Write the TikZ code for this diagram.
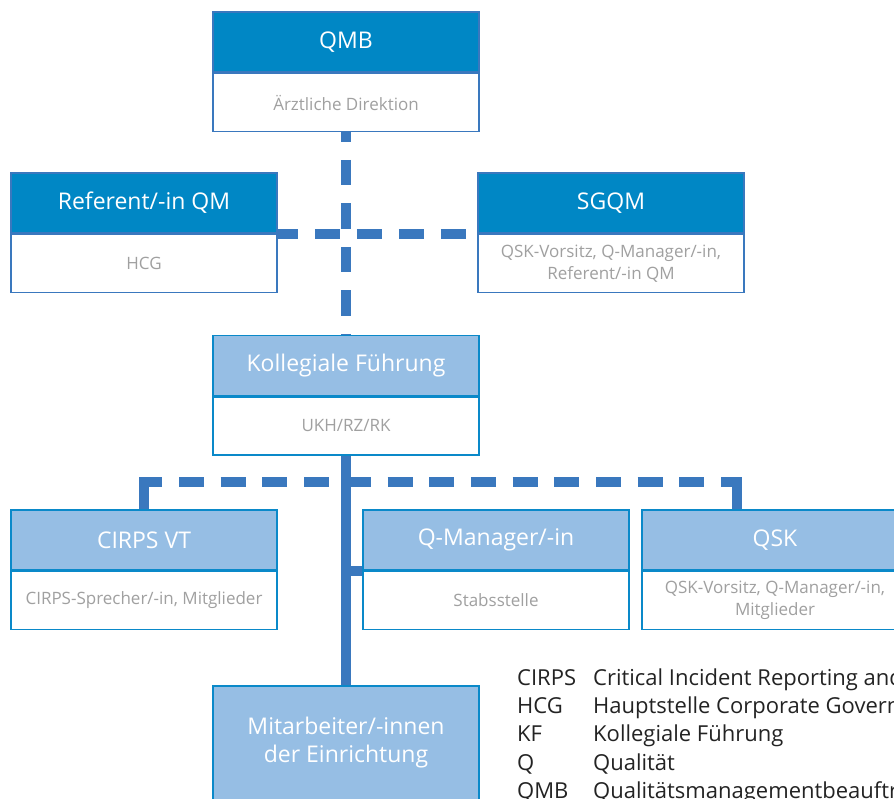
\documentclass[tikz,border=0pt]{standalone}
\usepackage{fontspec}
\setmainfont{Open Sans}
\usepackage{xcolor}
\usepackage{tikz}

\definecolor{qmdunkel}{RGB}{0,135,197}
\definecolor{qmhell}{RGB}{150,190,228}
\definecolor{linie}{RGB}{58,120,190}
\definecolor{rahmen}{RGB}{10,137,201}
\definecolor{textgrau}{RGB}{160,160,160}
\definecolor{legende}{RGB}{35,35,35}

\begin{document}
\begin{tikzpicture}[x=1pt, y=-1pt,
	kopf/.style={minimum width=266pt, minimum height=60pt, inner sep=0pt, text=white, line width=1.5pt, font=\fontsize{23}{28}\selectfont, align=center},
	kopfdunkel/.style={kopf, fill=qmdunkel, draw=linie},
	kopfhell/.style={kopf, fill=qmhell, draw=rahmen},
	inhalt/.style={minimum width=266pt, minimum height=58pt, inner sep=0pt, fill=white, line width=1.5pt, text=textgrau, font=\fontsize{17}{22}\selectfont, align=center, anchor=north},
	verbindung/.style={draw=linie, line width=10.5pt},
	gestrichelt/.style={verbindung, dash pattern=on 25pt off 17pt},
	abk/.style={anchor=base west, inner sep=0pt, text=legende, font=\fontsize{22}{28}\selectfont}]
				\useasboundingbox (0, 0) rectangle (894, 798);
				\clip (0, 0) rectangle (894, 798);
				
				%Level 1
				\node[kopfdunkel] (qmb) at (346, 42) {QMB};
				\node[inhalt, draw=linie] (qmbsub) at (qmb.south) {Ärztliche Direktion};
				
				%Level 2
				\node[kopfdunkel] (ref) at (144, 203) {Referent/-in QM};
				\node[inhalt, draw=linie] (refsub) at (ref.south) {HCG};
				\node[kopfdunkel] (sgqm) at (611, 203) {SGQM};
				\node[inhalt, draw=linie] (sgqmsub) at (sgqm.south) {QSK-Vorsitz, Q-Manager/-in,\\Referent/-in QM};
				
				%Level 3
				\node[kopfhell] (kf) at (346, 365.5) {Kollegiale Führung};
				\node[inhalt, draw=rahmen] (kfsub) at (kf.south) {UKH/RZ/RK};
				
				%Level 4
				\node[kopfhell] (cirps) at (144, 540) {CIRPS VT};
				\node[inhalt, draw=rahmen] (cirpssub) at (cirps.south) {CIRPS-Sprecher/-in, Mitglieder};
				\node[kopfhell] (qman) at (496, 540) {Q-Manager/-in};
				\node[inhalt, draw=rahmen] (qmansub) at (qman.south) {Stabsstelle};
				\node[kopfhell] (qsk) at (775, 540) {QSK};
				\node[inhalt, draw=rahmen] (qsksub) at (qsk.south) {QSK-Vorsitz, Q-Manager/-in,\\Mitglieder};
				
				%Level 5
				\node[kopfhell, minimum height=114pt] (mitarb) at (346, 743) {Mitarbeiter/-innen\\der Einrichtung};
				
				%Lines
				\coordinate (jl) at (144, 482);
				\coordinate (jr) at (737, 482);
				\draw[gestrichelt, dash pattern=on 25.5pt off 18pt, dash phase=16pt] (qmbsub.south) -- (kf.north);
				\draw[gestrichelt, dash phase=5pt] (ref.south east) -- (sgqm.south west);
				\draw[gestrichelt, dash pattern=on 25pt off 16.7pt, dash phase=6.7pt] (jl) -- (jr);
				\draw[verbindung, shorten >=-5.25pt] (cirps.north) -- (jl);
				\draw[verbindung, shorten >=-5.25pt] (qsk.north -| jr) -- (jr);
				\draw[verbindung] (kfsub.south) -- (mitarb.north);
				\draw[verbindung] (qman.south west) -- (qman.south west -| kfsub.south);
				
				%Legend
				\node[abk] (acirps) at (517, 685) {CIRPS};
				\node[abk] (ahcg) at (517, 713.3) {HCG};
				\node[abk] (akf) at (517, 741.6) {KF};
				\node[abk] (aq) at (517, 770) {Q};
				\node[abk] (aqmb) at (517, 798.3) {QMB};
				\node[abk] (tcirps) at (593, 685) {Critical Incident Reporting and};
				\node[abk] (thcg) at (593, 713.3) {Hauptstelle Corporate Governance};
				\node[abk] (tkf) at (593, 741.6) {Kollegiale Führung};
				\node[abk] (tq) at (593, 770) {Qualität};
				\node[abk] (tqmb) at (593, 798.3) {Qualitätsmanagementbeauftragte};
			\end{tikzpicture}
\end{document}
